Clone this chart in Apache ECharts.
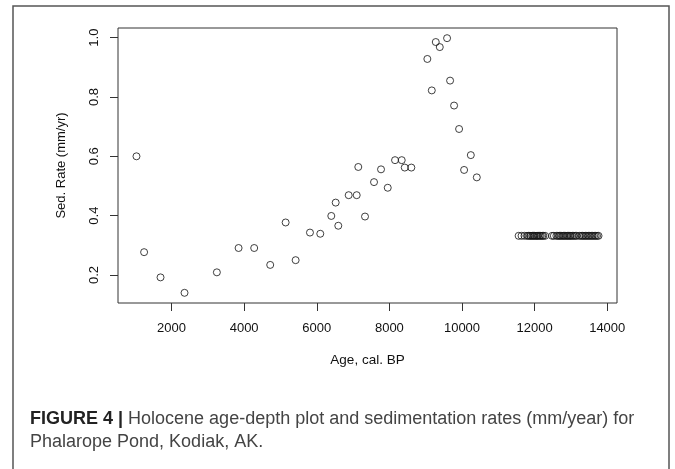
<!DOCTYPE html>
<html>
<head>
<meta charset="utf-8">
<script src="https://cdn.jsdelivr.net/npm/echarts@6/dist/echarts.min.js"></script>
<style>
html,body{margin:0;padding:0;background:#fff;}
#chart{width:675px;height:469px;}
</style>
</head>
<body>
<div id="chart"></div>
<script>
// Holocene section (age cal. BP, sed. rate mm/yr)
const ages = [1035, 1245, 1697, 2358, 3249, 3847, 4277, 4718, 5143, 5418, 5813, 6097, 6400, 6521, 6593,
  6879, 7100, 7144, 7329, 7577, 7770, 7955, 8156, 8340, 8423, 8605,
  9046, 9168, 9278, 9388, 9589, 9672, 9782, 9920, 10058, 10243, 10408];
const rates = [0.600, 0.277, 0.192, 0.140, 0.209, 0.291, 0.291, 0.234, 0.377, 0.250, 0.343, 0.339, 0.399, 0.444, 0.366,
  0.469, 0.469, 0.564, 0.397, 0.513, 0.556, 0.494, 0.587, 0.587, 0.562, 0.562,
  0.928, 0.822, 0.985, 0.968, 0.998, 0.855, 0.771, 0.692, 0.554, 0.604, 0.529];
// Late-glacial constant-rate section
const lateAges = [11560, 11640, 11720, 11790, 11830, 11870, 11900, 11940, 11970, 12000, 12040, 12070, 12100,
  12140, 12170, 12210, 12240, 12290, 12480, 12530, 12600, 12640, 12680, 12710, 12750, 12790, 12820,
  12860, 12900, 12930, 12970, 13000, 13040, 13080, 13120, 13160, 13230, 13280, 13320, 13360, 13400,
  13440, 13480, 13520, 13560, 13600, 13640, 13680, 13720, 13760];
const lateRates = [0.332, 0.332, 0.332, 0.332, 0.332, 0.332, 0.332, 0.332, 0.332, 0.332, 0.332, 0.332, 0.332,
  0.332, 0.332, 0.332, 0.332, 0.332, 0.332, 0.332, 0.332, 0.332, 0.332, 0.332, 0.332, 0.332, 0.332,
  0.332, 0.332, 0.332, 0.332, 0.332, 0.332, 0.332, 0.332, 0.332, 0.332, 0.332, 0.332, 0.332, 0.332,
  0.332, 0.332, 0.332, 0.332, 0.332, 0.332, 0.332, 0.332, 0.332];
const xTicks = [2000, 4000, 6000, 8000, 10000, 12000, 14000];
const yTicks = [0.2, 0.4, 0.6, 0.8, 1.0];
const xTitle = 'Age, cal. BP';
const yTitle = 'Sed. Rate (mm/yr)';
const captionBold = 'FIGURE 4 |';
const captionLine1 = ' Holocene age-depth plot and sedimentation rates (mm/year) for';
const captionLine2 = 'Phalarope Pond, Kodiak, AK.';

// R-style axis extent: data range extended by 4% each side
function rRange(vals) {
  const lo = Math.min(...vals), hi = Math.max(...vals), d = (hi - lo) * 0.04;
  return [lo - d, hi + d];
}
const allX = ages.concat(lateAges), allY = rates.concat(lateRates);
const xr = rRange(allX), yr = rRange(allY);

const pts = ages.map((a, i) => [a, rates[i]]).concat(lateAges.map((a, i) => [a, lateRates[i]]));

const FONT = 'Liberation Sans, Arial, Helvetica, sans-serif';
const chart = echarts.init(document.getElementById('chart'), null, {renderer: 'canvas'});
chart.setOption({
  animation: false,
  backgroundColor: '#fff',
  grid: {left: 118, right: 58, top: 28, bottom: 166, show: true, borderColor: '#333', borderWidth: 1, backgroundColor: 'transparent'},
  xAxis: {
    type: 'value', min: xr[0], max: xr[1],
    splitLine: {show: false},
    axisLine: {show: false},
    axisTick: {show: true, customValues: xTicks, length: 8, inside: false, lineStyle: {color: '#333', width: 1}},
    axisLabel: {customValues: xTicks, margin: 19, color: '#111', fontSize: 13, fontFamily: FONT, formatter: v => String(v)},
    name: xTitle, nameLocation: 'middle', nameGap: 50,
    nameTextStyle: {color: '#111', fontSize: 13.5, fontFamily: FONT}
  },
  yAxis: {
    type: 'value', min: yr[0], max: yr[1],
    splitLine: {show: false},
    axisLine: {show: false},
    axisTick: {show: true, customValues: yTicks, length: 8, lineStyle: {color: '#333', width: 1}},
    axisLabel: {customValues: yTicks, rotate: 90, margin: 17, color: '#111', fontSize: 13, fontFamily: FONT,
      formatter: v => v.toFixed(1)},
    name: yTitle, nameLocation: 'middle', nameGap: 50, nameRotate: 90,
    nameTextStyle: {color: '#111', fontSize: 13, fontFamily: FONT}
  },
  series: [{
    type: 'scatter',
    data: pts,
    symbol: 'circle',
    symbolSize: 7,
    itemStyle: {color: 'rgba(0,0,0,0)', borderColor: '#111', borderWidth: 1}
  }],
  graphic: [
    {type: 'rect', shape: {x: 13, y: 6, width: 656, height: 480}, style: {fill: 'none', stroke: '#555', lineWidth: 1.5}, silent: true},
    {type: 'text', x: 30, y: 419, style: {
      text: '{b|' + captionBold + '}{r|' + captionLine1 + '}',
      verticalAlign: 'middle',
      rich: {
        b: {fontSize: 18, fontWeight: 'bold', fill: '#222', fontFamily: FONT},
        r: {fontSize: 18, fill: '#444', fontFamily: FONT}
      }
    }},
    {type: 'text', x: 30, y: 442, style: {text: captionLine2, fontSize: 18, fill: '#444', fontFamily: FONT, verticalAlign: 'middle'}}
  ]
});
</script>
</body>
</html>
